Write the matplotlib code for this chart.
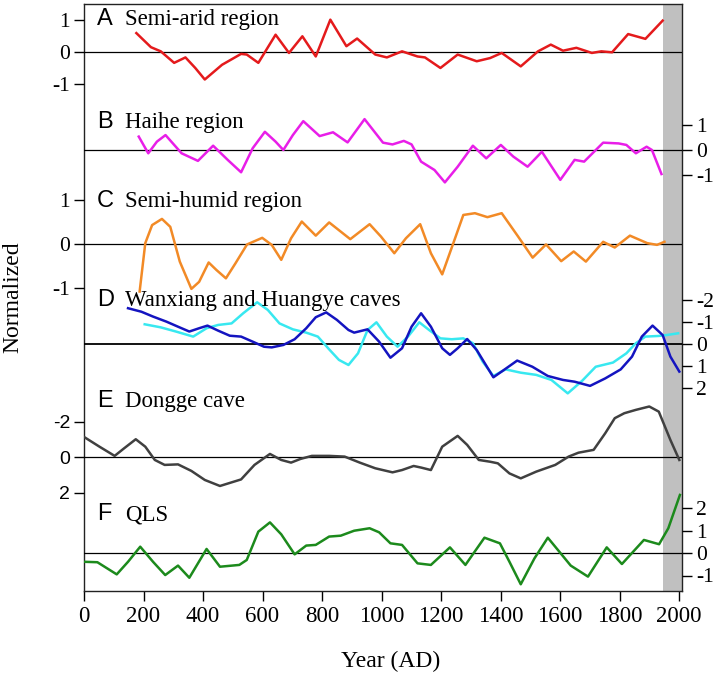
"""
Six stacked normalized proxy records (A-F) on one shared year axis,
alternating left/right y scales, grey band over the most recent decades.
Output: out.png
"""
import matplotlib
matplotlib.use("Agg")
import matplotlib.pyplot as plt

plt.rcParams.update({
    "font.family": "Liberation Serif",
    "axes.unicode_minus": False,
})

# ---- data ---------------------------------------------------------------
a_year = [176, 225, 258, 303, 341, 374, 406, 464, 528, 547, 586, 644, 689,
          734, 779, 828, 882, 918, 979, 1018, 1069, 1121, 1146, 1198, 1256,
          1320, 1365, 1404, 1468, 1526, 1569, 1610, 1655, 1707, 1739, 1775,
          1829, 1887, 1945]
a_val = [0.60, 0.16, 0.03, -0.33, -0.16, -0.49, -0.85, -0.39, -0.05, -0.07,
         -0.33, 0.55, -0.02, 0.50, -0.13, 1.02, 0.19, 0.43, -0.07, -0.16,
         0.03, -0.13, -0.16, -0.49, -0.07, -0.28, -0.18, -0.02, -0.44, 0.03,
         0.24, 0.05, 0.14, -0.02, 0.03, 0.0, 0.57, 0.42, 0.99]

b_year = [184, 216, 245, 274, 328, 383, 434, 483, 528, 567, 608, 644, 670,
          702, 737, 792, 837, 886, 943, 1005, 1037, 1075, 1101, 1133, 1178,
          1213, 1256, 1307, 1352, 1401, 1443, 1491, 1539, 1601, 1649, 1681,
          1745, 1797, 1823, 1855, 1891, 1909, 1941]
b_val = [0.53, -0.13, 0.33, 0.59, -0.13, -0.43, 0.17, -0.39, -0.88, 0.07,
         0.72, 0.33, 0.0, 0.59, 1.14, 0.55, 0.70, 0.30, 1.22, 0.29, 0.22,
         0.36, 0.22, -0.46, -0.79, -1.28, -0.66, 0.17, -0.33, 0.20, -0.26,
         -0.66, -0.07, -1.18, -0.39, -0.46, 0.29, 0.26, 0.20, -0.13, 0.13,
         0.0, -0.95]

c_year = [187, 206, 229, 262, 290, 322, 361, 387, 419, 445, 477, 509, 548,
          599, 631, 663, 696, 732, 779, 824, 895, 960, 998, 1043, 1082, 1130,
          1166, 1204, 1243, 1275, 1314, 1356, 1404, 1456, 1508, 1553, 1604,
          1646, 1687, 1745, 1784, 1835, 1893, 1926, 1951]
c_val = [-1.08, 0.02, 0.43, 0.57, 0.39, -0.40, -1.02, -0.86, -0.42, -0.59,
         -0.78, -0.44, -0.01, 0.14, -0.02, -0.36, 0.13, 0.51, 0.19, 0.49,
         0.11, 0.45, 0.17, -0.21, 0.13, 0.45, -0.21, -0.69, 0.05, 0.66, 0.70,
         0.61, 0.70, 0.20, -0.31, -0.01, -0.39, -0.17, -0.40, 0.05, -0.08,
         0.19, 0.02, -0.02, 0.05]

# D: two cave records (Wanxiang dark blue, Huangye cyan), inverted scale
d1_year = [148, 193, 232, 277, 316, 354, 387, 415, 451, 490, 528, 567, 605,
           631, 670, 708, 747, 779, 814, 850, 889, 908, 953, 992, 1030, 1069,
           1101, 1133, 1166, 1204, 1230, 1256, 1288, 1320, 1376, 1411, 1456,
           1507, 1559, 1610, 1649, 1701, 1752, 1804, 1842, 1875, 1911, 1945,
           1971, 2001]
d1_val = [-1.64, -1.48, -1.26, -1.03, -0.80, -0.58, -0.73, -0.85, -0.62,
          -0.39, -0.35, -0.12, 0.11, 0.14, 0.03, -0.23, -0.73, -1.23, -1.45,
          -1.11, -0.65, -0.53, -0.68, -0.12, 0.61, 0.18, -0.80, -1.41, -0.80,
          0.18, 0.48, 0.18, -0.24, 0.26, 1.50, 1.17, 0.74, 1.02, 1.44, 1.62,
          1.70, 1.89, 1.55, 1.14, 0.56, -0.35, -0.85, -0.42, 0.56, 1.24]
d2_year = [204, 258, 309, 367, 412, 451, 496, 535, 582, 618, 657, 702, 747,
           786, 824, 857, 889, 921, 953, 983, 1018, 1054, 1089, 1127, 1160,
           1198, 1236, 1275, 1307, 1340, 1376, 1417, 1468, 1520, 1571, 1626,
           1675, 1720, 1778, 1823, 1855, 1887, 1932, 1958, 1997]
d2_val = [-0.91, -0.77, -0.58, -0.35, -0.73, -0.88, -0.95, -1.41, -1.91,
          -1.56, -0.95, -0.68, -0.53, -0.35, 0.23, 0.71, 0.94, 0.41, -0.65,
          -1.0, -0.35, 0.11, -0.35, -1.0, -0.65, -0.27, -0.23, -0.27, -0.05,
          0.79, 1.44, 1.14, 1.29, 1.39, 1.62, 2.23, 1.65, 1.02, 0.83, 0.41,
          -0.05, -0.35, -0.38, -0.42, -0.50]

e_year = [2, 52, 103, 135, 174, 206, 238, 271, 316, 361, 406, 457, 528, 573,
          625, 663, 696, 728, 766, 824, 876, 927, 979, 1037, 1069, 1108, 1133,
          1166, 1204, 1256, 1288, 1327, 1365, 1391, 1430, 1468, 1520, 1584,
          1629, 1662, 1713, 1752, 1784, 1816, 1855, 1900, 1932, 1971, 2001]
e_val = [-1.13, -0.60, -0.08, -0.51, -1.02, -0.60, 0.15, 0.43, 0.40, 0.77,
         1.28, 1.62, 1.25, 0.43, -0.19, 0.15, 0.30, 0.09, -0.08, -0.08, -0.04,
         0.30, 0.62, 0.85, 0.72, 0.49, 0.58, 0.72, -0.60, -1.21, -0.70, 0.15,
         0.25, 0.34, 0.91, 1.19, 0.81, 0.43, -0.04, -0.26, -0.42, -1.36,
         -2.21, -2.49, -2.68, -2.87, -2.58, -0.98, 0.15]

f_year = [0, 45, 110, 148, 189, 232, 273, 316, 354, 412, 457, 522, 547, 586,
          625, 663, 708, 747, 779, 824, 863, 908, 960, 992, 1030, 1069, 1121,
          1166, 1230, 1282, 1346, 1398, 1430, 1468, 1514, 1559, 1636, 1694,
          1757, 1808, 1882, 1933, 1964, 2003]
f_val = [-0.39, -0.41, -0.95, -0.39, 0.28, -0.39, -0.98, -0.56, -1.10, 0.18,
         -0.61, -0.53, -0.31, 0.95, 1.36, 0.83, -0.06, 0.33, 0.36, 0.73, 0.77,
         0.99, 1.10, 0.92, 0.43, 0.36, -0.46, -0.53, 0.25, -0.53, 0.68, 0.43,
         -0.39, -1.39, -0.24, 0.68, -0.56, -1.05, 0.25, -0.49, 0.58, 0.39,
         1.10, 2.58]

letters = ["A", "B", "C", "D", "E", "F"]
names = ["Semi-arid region", "Haihe region", "Semi-humid region",
         "Wanxiang and Huangye caves", "Dongge cave", "QLS"]
yticks = [[1, 0, -1], [1, 0, -1], [1, 0, -1], [-2, -1, 0, 1, 2],
          [-2, 0, 2], [2, 1, 0, -1]]
series = [
    [(a_year, a_val, "#e41a1c")],
    [(b_year, b_val, "#e81ee8")],
    [(c_year, c_val, "#f28a26")],
    [(d2_year, d2_val, "#38e8f0"), (d1_year, d1_val, "#1414c0")],
    [(e_year, e_val, "#404040")],
    [(f_year, f_val, "#1c8a1c")],
]

# ---- layout (pixels of the 721x677 canvas) --------------------------------
W, H = 721, 677
L, R, T, B = 84, 682, 4, 591
# zero-line pixel row, pixels per unit, tick side, inverted scale
panels = [(52.3, 32.0, "left", False), (150.0, 25.3, "right", False),
          (244.0, 44.0, "left", False), (344.3, 22.0, "right", True),
          (457.3, 17.7, "left", True), (553.0, 22.5, "right", False)]
label_base = [25, 128, 207, 306, 407, 520]

fig = plt.figure(figsize=(W / 100, H / 100), dpi=100)
ax = fig.add_axes([L / W, 1 - B / H, (R - L) / W, (B - T) / H])
ax.set_xlim(0, 2010)
ax.set_yticks([])
ax.axvspan(1945, 2010, color="#c0c0c0", lw=0, zorder=0)
ax.set_xticks(range(0, 2001, 200))
ax.tick_params(axis="x", direction="out", length=7, width=1.0,
               labelsize=16.5, pad=4)
for sp in ax.spines.values():
    sp.set_linewidth(1.0)
    sp.set_color("#222222")

for (zero, ppu, side, inv), ticks, lines in zip(panels, yticks, series):
    pax = ax.twinx()
    for sp in pax.spines.values():
        sp.set_visible(False)
    if inv:
        pax.set_ylim((B - zero) / ppu, (T - zero) / ppu)
    else:
        pax.set_ylim((zero - B) / ppu, (zero - T) / ppu)
    pax.set_yticks(ticks)
    if side == "left":
        pax.yaxis.set_ticks_position("left")
    else:
        pax.yaxis.set_ticks_position("right")
    pax.tick_params(axis="y", direction="out", length=7, width=1.0,
                    labelsize=15.5, pad=3)
    pax.axhline(0, color="black", lw=1.3 if inv and side == "right" else 0.9,
                zorder=1)
    for yr, val, col in lines:
        pax.plot(yr, val, color=col, lw=1.8, solid_joinstyle="round", zorder=3)
    if inv and side == "left":
        for lab in pax.get_yticklabels():
            lab.set_fontfamily("Liberation Sans")
            lab.set_fontsize(14)

for letter, name, base in zip(letters, names, label_base):
    fig.text(97 / W, 1 - base / H, letter, family="Liberation Sans",
             fontsize=17, ha="left", va="baseline")
    fig.text(125 / W, 1 - base / H, name, fontsize=16.5, ha="left",
             va="baseline")

fig.text(13 / W, 1 - 297 / H, "Normalized", rotation=90, fontsize=17,
         ha="center", va="center")
fig.text(391 / W, 1 - 661 / H, "Year (AD)", fontsize=17, ha="center",
         va="center")

fig.savefig("out.png", dpi=100)
